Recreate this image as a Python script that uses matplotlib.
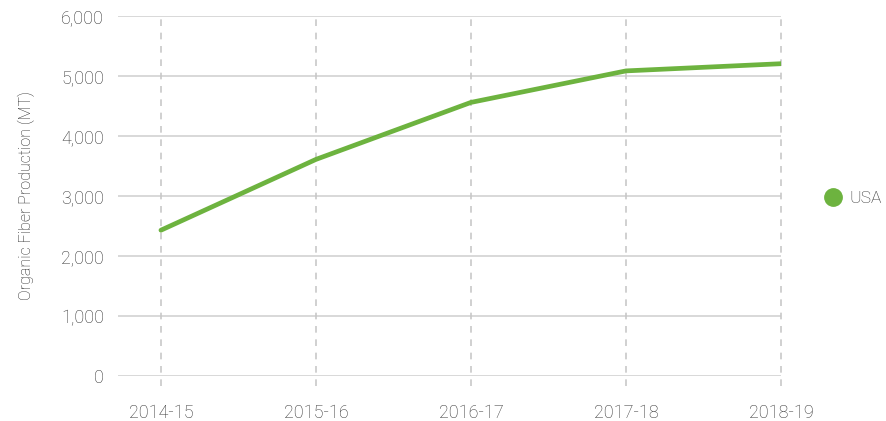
import matplotlib.pyplot as plt
from matplotlib.lines import Line2D
from matplotlib.ticker import FuncFormatter

# data
seasons = ['2014-15', '2015-16', '2016-17', '2017-18', '2018-19']
usa = [2430, 3610, 4560, 5085, 5205]
yticks = [0, 1000, 2000, 3000, 4000, 5000, 6000]

green = '#6db33f'
text_col = '#333333'

plt.rcParams['font.family'] = ['Roboto', 'DejaVu Sans']
plt.rcParams['font.weight'] = 'light'

fig = plt.figure(figsize=(8.86, 4.21), dpi=100)
ax = fig.add_axes([118 / 886, 1 - 376 / 421, (781 - 118) / 886, 360 / 421])

x = list(range(len(seasons)))

# horizontal grid
for v in yticks:
    ax.axhline(v, color='#d6d6d6', lw=1.3, zorder=1)

# dashed vertical grid, poking below the axis
for xi in x:
    ax.axvline(xi, ymin=-0.028, ymax=1, color='#c8c8c8', lw=1.2,
               ls=(0, (4, 4)), clip_on=False, zorder=1)

ax.plot(x, usa, color=green, lw=3.4, solid_capstyle='round', zorder=3)

ax.set_xlim(-0.277, 4)
ax.set_ylim(0, 6000)
ax.set_xticks(x)
ax.set_xticklabels(seasons)
ax.set_yticks(yticks)
ax.yaxis.set_major_formatter(FuncFormatter(lambda v, p: f'{int(v):,}'))
ax.tick_params(axis='both', length=0, labelsize=13, colors=text_col)
ax.tick_params(axis='x', pad=20)
ax.tick_params(axis='y', pad=10)
for s in ax.spines.values():
    s.set_visible(False)

ax.set_ylabel('Organic Fiber Production (MT)', fontsize=11.5, color='#222222',
              fontweight='light', labelpad=19)

handle = Line2D([], [], marker='o', color='none', markerfacecolor=green,
                markeredgecolor=green, markersize=12.5)
fig.legend([handle], ['USA'], loc='center left', bbox_to_anchor=(816 / 886, 1 - 198 / 421),
           frameon=False, handletextpad=0.3, fontsize=12.5, labelcolor=text_col,
           handlelength=1.2, borderaxespad=0)

fig.savefig('out.png', dpi=100)
